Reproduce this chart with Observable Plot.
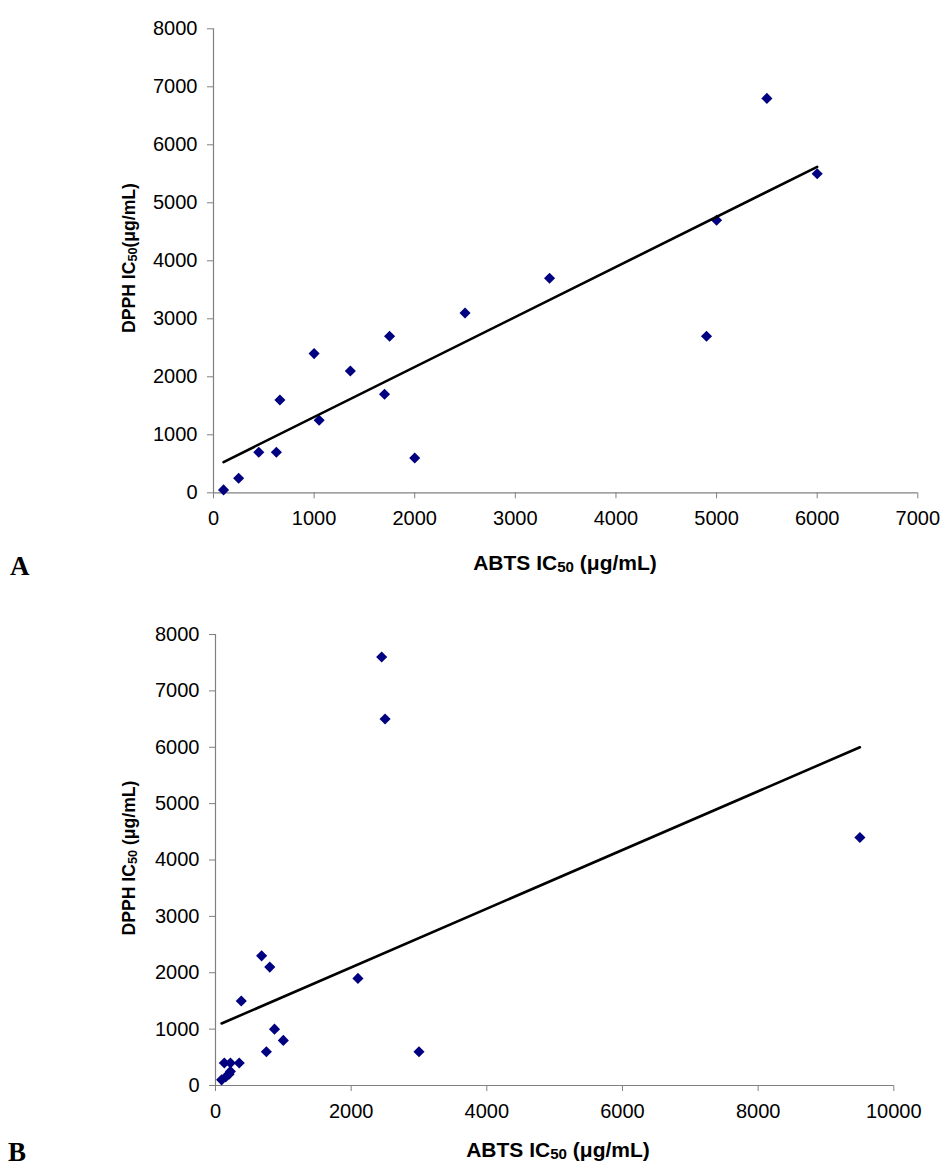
<!DOCTYPE html>
<html>
<head>
<meta charset="utf-8">
<script src="https://cdn.jsdelivr.net/npm/d3@7"></script>
<script src="https://cdn.jsdelivr.net/npm/@observablehq/plot@0.6"></script>
<style>
  html, body { margin: 0; padding: 0; background: white; }
  #page { position: relative; width: 943px; height: 1168px; background: white; overflow: hidden; }
  .chart { position: absolute; left: 0; }
  .ytitle { position: absolute; font-family: "Liberation Sans", Arial, sans-serif; font-weight: bold; font-size: 17.6px; white-space: nowrap; transform: translate(-50%, -50%) rotate(-90deg); color: black; }
  .xtitle { position: absolute; font-family: "Liberation Sans", Arial, sans-serif; font-weight: bold; font-size: 21px; white-space: nowrap; transform: translate(-50%, -50%); color: black; }
  .sub { font-size: 0.72em; position: relative; top: 0.12em; }
  .panel { position: absolute; font-family: "Liberation Serif", "Times New Roman", serif; font-weight: bold; font-size: 27px; color: black; line-height: 22px; }
</style>
</head>
<body>
<div id="page">
  <div id="chartA" class="chart" style="top:0px"></div>
  <div id="chartB" class="chart" style="top:600px"></div>
  <div class="ytitle" style="left:129px; top:258px">DPPH IC<span class="sub">50</span>(μg/mL)</div>
  <div class="ytitle" style="left:129px; top:858px">DPPH IC<span class="sub">50</span> (μg/mL)</div>
  <div class="xtitle" style="left:565px; top:563px">ABTS IC<span class="sub">50</span> (μg/mL)</div>
  <div class="xtitle" style="left:558px; top:1150px">ABTS IC<span class="sub">50</span> (μg/mL)</div>
  <div class="panel" style="left:10px; top:555px">A</div>
  <div class="panel" style="left:8px; top:1141px">B</div>
</div>
<script>
// Panel A data
const abtsA = [100, 250, 450, 625, 660, 1000, 1050, 1360, 1700, 1750, 2000, 2500, 3340, 4900, 5000, 5500, 6000];
const dpphA = [50, 250, 700, 700, 1600, 2400, 1250, 2100, 1700, 2700, 600, 3100, 3700, 2700, 4700, 6800, 5500];
const trendAx = [100, 6000];
const trendAy = [530, 5620];
const xTicksA = [0, 1000, 2000, 3000, 4000, 5000, 6000, 7000];
const yTicksA = [0, 1000, 2000, 3000, 4000, 5000, 6000, 7000, 8000];

// Panel B data
const abtsB = [90, 150, 130, 220, 220, 200, 350, 380, 680, 750, 800, 870, 1000, 2100, 2450, 2500, 3000, 9500];
const dpphB = [100, 150, 400, 400, 250, 200, 400, 1500, 2300, 600, 2100, 1000, 800, 1900, 7600, 6500, 600, 4400];
const trendBx = [90, 9500];
const trendBy = [1100, 6000];
const xTicksB = [0, 2000, 4000, 6000, 8000, 10000];
const yTicksB = [0, 1000, 2000, 3000, 4000, 5000, 6000, 7000, 8000];

const ptsA = abtsA.map((x, i) => ({x, y: dpphA[i]}));
const lineA = trendAx.map((x, i) => ({x, y: trendAy[i]}));
const ptsB = abtsB.map((x, i) => ({x, y: dpphB[i]}));
const lineB = trendBx.map((x, i) => ({x, y: trendBy[i]}));

function scatter({pts, line, xTicks, yTicks, height, mL, mR, mT, mB}) {
  const xMax = xTicks[xTicks.length - 1], yMax = yTicks[yTicks.length - 1];
  return Plot.plot({
    width: 943, height, marginLeft: mL, marginRight: mR, marginTop: mT, marginBottom: mB,
    x: {domain: [0, xMax]},
    y: {domain: [0, yMax]},
    style: {fontFamily: "'Liberation Sans', Arial, sans-serif", fontSize: "20px", color: "black", background: "white", overflow: "visible"},
    marks: [
      Plot.axisX({ticks: xTicks, tickSize: 6, tickPadding: 12, stroke: "#808080", fill: "black", label: null, tickFormat: d => String(d)}),
      Plot.axisY({ticks: yTicks, tickSize: 6, tickPadding: 10, stroke: "#808080", fill: "black", label: null, tickFormat: d => String(d)}),
      Plot.ruleX([0], {y1: 0, y2: yMax, stroke: "#808080", strokeWidth: 1.2}),
      Plot.ruleY([0], {x1: 0, x2: xMax, stroke: "#808080", strokeWidth: 1.2}),
      Plot.dot(pts, {x: "x", y: "y", symbol: "diamond2", r: 5, fill: "#000080", stroke: "none"}),
      Plot.line(line, {x: "x", y: "y", stroke: "black", strokeWidth: 2.6})
    ]
  });
}

document.getElementById("chartA").appendChild(scatter({
  pts: ptsA, line: lineA, xTicks: xTicksA, yTicks: yTicksA,
  height: 540, mL: 213, mR: 25.7, mT: 28.3, mB: 47.7
}));
document.getElementById("chartB").appendChild(scatter({
  pts: ptsB, line: lineB, xTicks: xTicksB, yTicks: yTicksB,
  height: 520, mL: 215, mR: 49.7, mT: 34, mB: 35
}));
</script>
</body>
</html>
